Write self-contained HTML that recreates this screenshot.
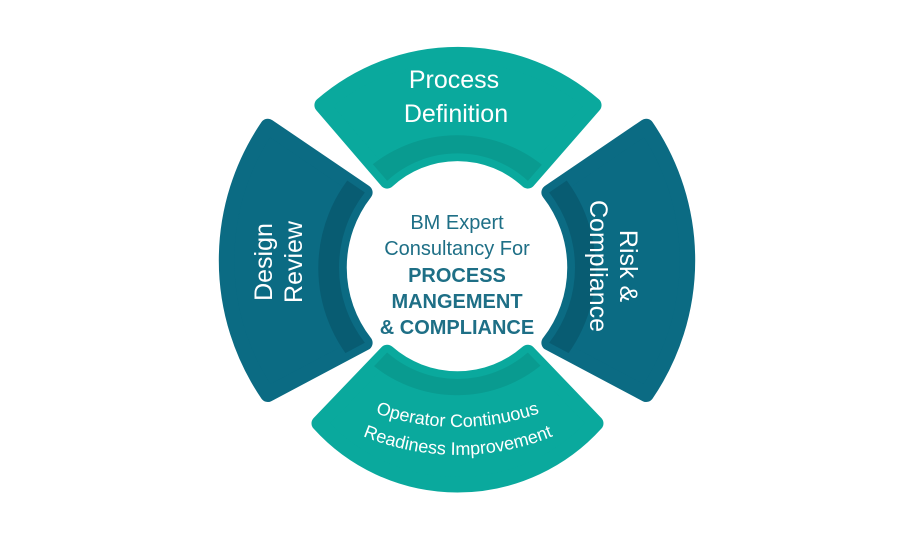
<!DOCTYPE html>
<html><head><meta charset="utf-8"><style>
html,body{margin:0;padding:0;background:#fff;}
svg{display:block;font-family:"Liberation Sans",sans-serif;}
</style></head><body>
<svg width="915" height="550" viewBox="0 0 915 550" xmlns="http://www.w3.org/2000/svg">
<defs>
<clipPath id="ct"><path d="M318 100 A214 214 0 0 1 598 100 L530 178 A107 107 0 0 0 385 178 Z"/></clipPath>
<clipPath id="cb"><path d="M385 355 A110 110 0 0 0 530 355 L600 428 A192 192 0 0 1 315 428 Z"/></clipPath>
<clipPath id="cl"><path d="M262 122 A245 245 0 0 0 262 398 L362 345 A126 126 0 0 1 362 190 Z"/></clipPath>
<clipPath id="cr"><path d="M652 122 A245 245 0 0 1 652 398 L552 345 A126 126 0 0 0 552 190 Z"/></clipPath>
<path id="b1" d="M330 392 A250 250 0 0 0 585 392"/>
<path id="b2" d="M318 412 A250 250 0 0 0 598 412"/>
</defs>
<g transform="translate(457 272) scale(0.97) translate(-457 -272)">
<g stroke-linejoin="round" stroke-width="16">
<path d="M318 100 A214 214 0 0 1 598 100 L530 178 A107 107 0 0 0 385 178 Z" fill="#0aa99d" stroke="#0aa99d"/>
<path d="M385 355 A110 110 0 0 0 530 355 L600 428 A192 192 0 0 1 315 428 Z" fill="#0aa99d" stroke="#0aa99d"/>
<path d="M262 122 A245 245 0 0 0 262 398 L362 345 A126 126 0 0 1 362 190 Z" fill="#0b6b83" stroke="#0b6b83"/>
<path d="M652 122 A245 245 0 0 1 652 398 L552 345 A126 126 0 0 0 552 190 Z" fill="#0b6b83" stroke="#0b6b83"/>
</g>
<circle cx="457" cy="272" r="128" fill="none" stroke="#099b90" stroke-width="26" clip-path="url(#ct)"/>
<circle cx="457" cy="262" r="124" fill="none" stroke="#099b90" stroke-width="26" clip-path="url(#cb)"/>
<circle cx="465" cy="268" r="137" fill="none" stroke="#085c72" stroke-width="28" clip-path="url(#cl)"/>
<circle cx="449" cy="268" r="137" fill="none" stroke="#085c72" stroke-width="28" clip-path="url(#cr)"/>
</g>
<g fill="#fff" font-size="25" text-anchor="middle">
<text x="454" y="88">Process</text>
<text x="456" y="122">Definition</text>
<text transform="translate(272 262) rotate(-90)">Design</text>
<text transform="translate(302 262) rotate(-90)">Review</text>
<text transform="translate(620 266) rotate(90)">Risk &amp;</text>
<text transform="translate(590 266) rotate(90)">Compliance</text>
</g>
<g fill="#fff" font-size="18" text-anchor="middle">
<text><textPath href="#b1" startOffset="50%">Operator Continuous</textPath></text>
<text><textPath href="#b2" startOffset="50%">Readiness Improvement</textPath></text>
</g>
<g fill="#1e6f86" font-size="20" text-anchor="middle">
<text x="457" y="229">BM Expert</text>
<text x="457" y="255">Consultancy For</text>
<text x="457" y="282" font-weight="bold">PROCESS</text>
<text x="457" y="308" font-weight="bold">MANGEMENT</text>
<text x="457" y="334" font-weight="bold">&amp; COMPLIANCE</text>
</g>
</svg>
</body></html>
